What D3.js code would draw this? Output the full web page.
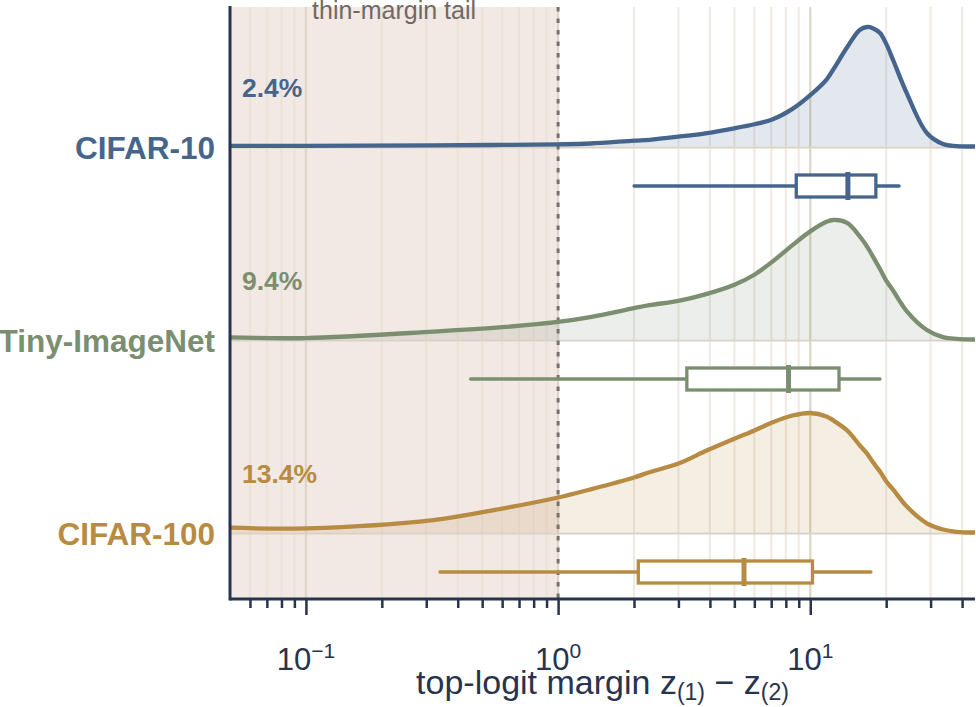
<!DOCTYPE html>
<html>
<head>
<meta charset="utf-8">
<script src="https://cdn.jsdelivr.net/npm/d3@7"></script>
<style>
  body { margin: 0; background: #ffffff; }
  svg { display: block; font-family: "Liberation Sans", Helvetica, Arial, sans-serif; }
</style>
</head>
<body>
<div id="ridge_chart"></div>
<script>
// ___________________________ Data ___________________________
const datasets = ["CIFAR-10", "Tiny-ImageNet", "CIFAR-100"];
const colors = ["#46658d", "#7b8e70", "#b88b42"];
const tailShare = ["2.4%", "9.4%", "13.4%"];

const marginGrid = [0.05, 0.1, 0.32, 0.6, 1, 1.34, 2, 2.3, 3, 3.9, 5, 6, 7.1, 8.5, 10,
    11.6, 12.3, 14, 15.7, 16.8, 17.7, 18.9, 20.1, 21.3, 24.2, 29, 33.6, 38, 45];

// densities scaled to peak = 1
const cifar10Density = [0.005, 0.006, 0.01, 0.013, 0.018, 0.025, 0.049, 0.056, 0.082, 0.112, 0.152,
    0.186, 0.228, 0.315, 0.43, 0.56, 0.64, 0.83, 0.975, 1.0, 0.99, 0.95, 0.85, 0.724, 0.44,
    0.113, 0.021, 0.004, 0.0];
const tinyDensity = [0.018, 0.012, 0.066, 0.103, 0.147, 0.187, 0.262, 0.287, 0.324, 0.382, 0.458,
    0.542, 0.654, 0.79, 0.905, 0.985, 1.0, 0.976, 0.864, 0.777, 0.696, 0.59, 0.486, 0.41, 0.234,
    0.08, 0.02, 0.005, 0.0];
const cifar100Density = [0.04, 0.035, 0.104, 0.2, 0.293, 0.36, 0.46, 0.504, 0.577, 0.688, 0.785,
    0.854, 0.923, 0.979, 1.0, 0.971, 0.94, 0.854, 0.73, 0.66, 0.59, 0.51, 0.423, 0.36, 0.215,
    0.077, 0.025, 0.006, 0.0];
const densities = [cifar10Density, tinyDensity, cifar100Density];

// box plot summaries
const boxLow = [2.0, 0.45, 0.34];
const boxQ1 = [8.8, 3.24, 2.08];
const boxMedian = [14.1, 8.2, 5.46];
const boxQ3 = [18.2, 13.0, 10.2];
const boxHigh = [22.5, 18.9, 17.4];

const majorTicks = [0.1, 1, 10];
const majorLabels = [["10", "\u22121"], ["10", "0"], ["10", "1"]];
const minorTicks = [0.06, 0.07, 0.08, 0.09, 0.2, 0.3, 0.4, 0.5, 0.6, 0.7, 0.8, 0.9,
    2, 3, 4, 5, 6, 7, 8, 9, 20, 30, 40];
const tailCut = 1;

// ___________________________ Chart ___________________________
const width = 976, height = 707;
const margin = { top: 7, right: 1, bottom: 108, left: 230 };
const plotBottom = height - margin.bottom;

const svg = d3.select("#ridge_chart")
    .append("svg")
    .attr("width", width)
    .attr("height", height);

// Scales
const xScale = d3.scaleLog()
    .domain([0.05, 45])
    .range([margin.left, width - margin.right]);

const rowScale = d3.scalePoint()
    .domain(datasets)
    .range([146.5, 532.5]);

const hScale = d3.scaleLinear()
    .domain([0, 1])
    .range([0, 119.5]);

// Thin-margin shaded region
svg.append("rect")
    .attr("x", xScale(0.05))
    .attr("y", margin.top)
    .attr("width", xScale(tailCut) - xScale(0.05))
    .attr("height", plotBottom - margin.top)
    .attr("fill", "#f2e8e4");

// Vertical grid lines
svg.append("g")
    .selectAll("line")
    .data(minorTicks)
    .join("line")
    .attr("x1", d => xScale(d))
    .attr("x2", d => xScale(d))
    .attr("y1", margin.top)
    .attr("y2", plotBottom)
    .attr("stroke", "#e6dfd2")
    .attr("stroke-opacity", 0.65)
    .attr("stroke-width", 2);

svg.append("g")
    .selectAll("line")
    .data(majorTicks)
    .join("line")
    .attr("x1", d => xScale(d))
    .attr("x2", d => xScale(d))
    .attr("y1", margin.top)
    .attr("y2", plotBottom)
    .attr("stroke", "#ddd5c8")
    .attr("stroke-width", 2.2);

svg.append("text")
    .attr("x", (xScale(0.05) + xScale(tailCut)) / 2)
    .attr("y", 19)
    .attr("text-anchor", "middle")
    .attr("fill", "#6f6964")
    .style("font-size", "25px")
    .text("thin-margin tail");

// Area and line generators
const smooth = d3.curveCatmullRom.alpha(0.5);

const area = d3.area()
    .x(d => xScale(d.m))
    .y0(d => d.base)
    .y1(d => d.base - hScale(d.v))
    .curve(smooth);

const line = d3.line()
    .x(d => xScale(d.m))
    .y(d => d.base - hScale(d.v))
    .curve(smooth);

// Fills and baselines first
datasets.forEach((name, i) => {
    const base = rowScale(name);
    const pts = marginGrid.map((m, j) => ({ m: m, v: densities[i][j], base: base }));

    svg.append("path")
        .datum(pts)
        .attr("d", area)
        .attr("fill", colors[i])
        .attr("fill-opacity", 0.15);

    svg.append("line")
        .attr("x1", xScale(0.05))
        .attr("x2", xScale(45))
        .attr("y1", base + 1)
        .attr("y2", base + 1)
        .attr("stroke", "#d9d1c5")
        .attr("stroke-width", 2);
});

// Dotted cut-off at margin = 1
svg.append("line")
    .attr("x1", xScale(tailCut))
    .attr("x2", xScale(tailCut))
    .attr("y1", margin.top)
    .attr("y2", plotBottom)
    .attr("stroke", "#7a716b")
    .attr("stroke-width", 3)
    .attr("stroke-dasharray", "4.5,7");

// Curves, box plots and labels
datasets.forEach((name, i) => {
    const base = rowScale(name);
    const pts = marginGrid.map((m, j) => ({ m: m, v: densities[i][j], base: base }));

    svg.append("path")
        .datum(pts)
        .attr("d", line)
        .attr("fill", "none")
        .attr("stroke", colors[i])
        .attr("stroke-width", 4.3)
        .attr("stroke-linejoin", "round");

    const by = base + 39.5;
    svg.append("line")
        .attr("x1", xScale(boxLow[i]))
        .attr("x2", xScale(boxHigh[i]))
        .attr("y1", by)
        .attr("y2", by)
        .attr("stroke", colors[i])
        .attr("stroke-width", 3.3)
        .attr("stroke-linecap", "round");

    svg.append("rect")
        .attr("x", xScale(boxQ1[i]))
        .attr("y", by - 11)
        .attr("width", xScale(boxQ3[i]) - xScale(boxQ1[i]))
        .attr("height", 22)
        .attr("fill", "#ffffff")
        .attr("stroke", colors[i])
        .attr("stroke-width", 3.3);

    svg.append("line")
        .attr("x1", xScale(boxMedian[i]))
        .attr("x2", xScale(boxMedian[i]))
        .attr("y1", by - 14)
        .attr("y2", by + 14)
        .attr("stroke", colors[i])
        .attr("stroke-width", 5);

    svg.append("text")
        .attr("x", 215)
        .attr("y", base + 12.5)
        .attr("text-anchor", "end")
        .attr("fill", colors[i])
        .style("font-size", "31.5px")
        .style("font-weight", "bold")
        .text(name);

    svg.append("text")
        .attr("x", 242)
        .attr("y", base - 49.5)
        .attr("fill", colors[i])
        .style("font-size", "26.5px")
        .style("font-weight", "bold")
        .text(tailShare[i]);
});

// Axes
const axisColor = "#27334f";

const minorAxis = svg.append("g")
    .attr("transform", "translate(0," + plotBottom + ")")
    .call(d3.axisBottom(xScale).tickValues(minorTicks).tickSize(9).tickFormat(""));
minorAxis.select(".domain").remove();
minorAxis.selectAll("line").attr("stroke", axisColor).attr("stroke-width", 2.5);

const majorAxis = svg.append("g")
    .attr("transform", "translate(0," + plotBottom + ")")
    .call(d3.axisBottom(xScale).tickValues(majorTicks).tickSize(16).tickFormat(""));
majorAxis.select(".domain").remove();
majorAxis.selectAll("line").attr("stroke", axisColor).attr("stroke-width", 2.5);

// Major tick labels with superscripts
const tickText = svg.append("g")
    .selectAll("text")
    .data(majorTicks)
    .join("text")
    .attr("x", d => xScale(d))
    .attr("y", 670)
    .attr("text-anchor", "middle")
    .attr("fill", axisColor)
    .style("font-size", "31px");
tickText.append("tspan").text((d, i) => majorLabels[i][0]);
tickText.append("tspan")
    .attr("dy", -12)
    .style("font-size", "21px")
    .text((d, i) => majorLabels[i][1]);

// Axis lines
svg.append("line")
    .attr("x1", margin.left)
    .attr("x2", width - margin.right)
    .attr("y1", plotBottom)
    .attr("y2", plotBottom)
    .attr("stroke", axisColor)
    .attr("stroke-width", 3);

svg.append("line")
    .attr("x1", margin.left)
    .attr("x2", margin.left)
    .attr("y1", margin.top - 1)
    .attr("y2", plotBottom + 1.5)
    .attr("stroke", axisColor)
    .attr("stroke-width", 3);

// x-axis title
const title = svg.append("text")
    .attr("x", (margin.left + width - margin.right) / 2)
    .attr("y", 694)
    .attr("text-anchor", "middle")
    .attr("fill", axisColor)
    .style("font-size", "34px");
title.append("tspan").text("top-logit margin z");
title.append("tspan").attr("dy", 6).style("font-size", "23px").text("(1)");
title.append("tspan").attr("dy", -6).text(" \u2212 z");
title.append("tspan").attr("dy", 6).style("font-size", "23px").text("(2)");
</script>
</body>
</html>
